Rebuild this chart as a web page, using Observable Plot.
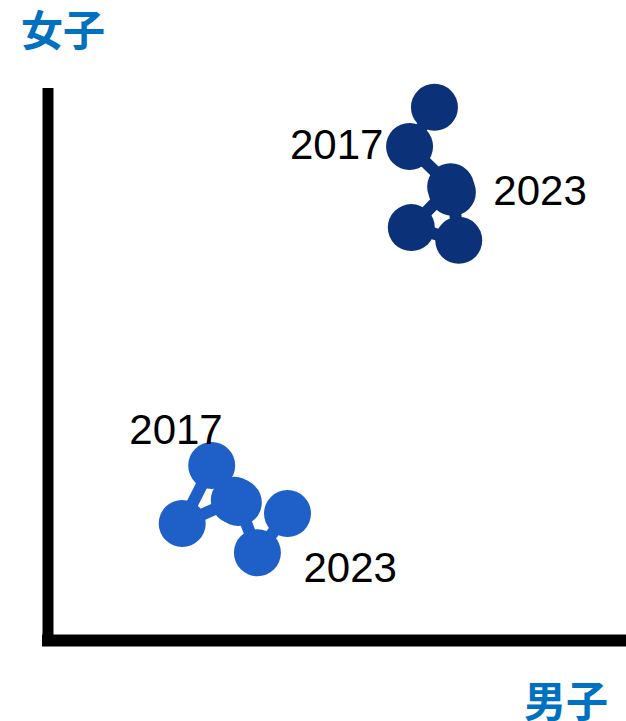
<!DOCTYPE html>
<html>
<head>
<meta charset="utf-8">
<script src="https://cdn.jsdelivr.net/npm/d3@7"></script>
<script src="https://cdn.jsdelivr.net/npm/@observablehq/plot@0.6"></script>
<style>
  html, body { margin: 0; padding: 0; background: #ffffff; overflow: hidden; }
  #wrap { position: relative; width: 626px; height: 721px; }
  #chart svg { display: block; }
  .axis-title {
    position: absolute;
    font-family: 'Noto Sans CJK JP', 'Noto Sans', sans-serif;
    font-weight: bold;
    font-size: 42px;
    line-height: 42px;
    height: 42px;
    color: #0070C0;
    white-space: nowrap;
  }
  #ytitle { left: 21px; top: 7px; }
  #xtitle { left: 524px; top: 678px; }
</style>
</head>
<body>
<div id="wrap">
  <div id="chart"></div>
  <div class="axis-title" id="ytitle"></div>
  <div class="axis-title" id="xtitle"></div>
</div>
<script>
// ---- data (arbitrary 0–100 units; axes carry no ticks) ----
const years = [2017, 2018, 2019, 2021, 2022, 2023];
const seriesNames = ["系列1", "系列2"];
const seriesColors = ["#0B3278", "#1F5FC8"];
const series1X = [66.8, 62.5, 69.6, 62.8, 71.0, 69.9];
const series1Y = [96.6, 89.5, 82.2, 74.8, 72.5, 81.2];
const series2X = [28.3, 23.2, 32.2, 32.9, 36.2, 41.4];
const series2Y = [31.7, 21.2, 25.4, 25.0, 15.9, 23.0];
const yAxisTitle = "女子";
const xAxisTitle = "男子";

const rows = [];
years.forEach((yr, i) => rows.push({series: seriesNames[0], year: yr, x: series1X[i], y: series1Y[i]}));
years.forEach((yr, i) => rows.push({series: seriesNames[1], year: yr, x: series2X[i], y: series2Y[i]}));

const firstYear = years[0], lastYear = years[years.length - 1];
const s1 = rows.filter(d => d.series === seriesNames[0]);
const s2 = rows.filter(d => d.series === seriesNames[1]);
const labelFont = "'Liberation Sans', Arial, sans-serif";

const chart = Plot.plot({
  width: 626,
  height: 721,
  marginLeft: 47.5,
  marginRight: 0,
  marginTop: 88,
  marginBottom: 81,
  x: {domain: [0, 100], axis: null},
  y: {domain: [0, 100], axis: null},
  color: {domain: seriesNames, range: seriesColors},
  style: {background: "#ffffff"},
  marks: [
    Plot.ruleX([0], {stroke: "#000", strokeWidth: 11, insetBottom: -6}),
    Plot.ruleY([0], {stroke: "#000", strokeWidth: 12, insetLeft: -5.5}),
    Plot.line(rows, {x: "x", y: "y", z: "series", stroke: "series", strokeWidth: 12}),
    Plot.dot(rows, {x: "x", y: "y", fill: "series", r: 23.5}),
    // year labels
    Plot.text(s1.filter(d => d.year === firstYear), {x: "x", y: "y", text: d => String(d.year), textAnchor: "end", dx: -51, dy: 38, fontSize: 42, fontFamily: labelFont, fill: "#000"}),
    Plot.text(s1.filter(d => d.year === lastYear), {x: "x", y: "y", text: d => String(d.year), textAnchor: "start", dx: 41, dy: -1, fontSize: 42, fontFamily: labelFont, fill: "#000"}),
    Plot.text(s2.filter(d => d.year === firstYear), {x: "x", y: "y", text: d => String(d.year), textAnchor: "end", dx: 11, dy: -35, fontSize: 42, fontFamily: labelFont, fill: "#000"}),
    Plot.text(s2.filter(d => d.year === lastYear), {x: "x", y: "y", text: d => String(d.year), textAnchor: "start", dx: 16, dy: 55, fontSize: 42, fontFamily: labelFont, fill: "#000"})
  ]
});
document.getElementById("chart").appendChild(chart);
document.getElementById("ytitle").textContent = yAxisTitle;
document.getElementById("xtitle").textContent = xAxisTitle;
</script>
</body>
</html>
